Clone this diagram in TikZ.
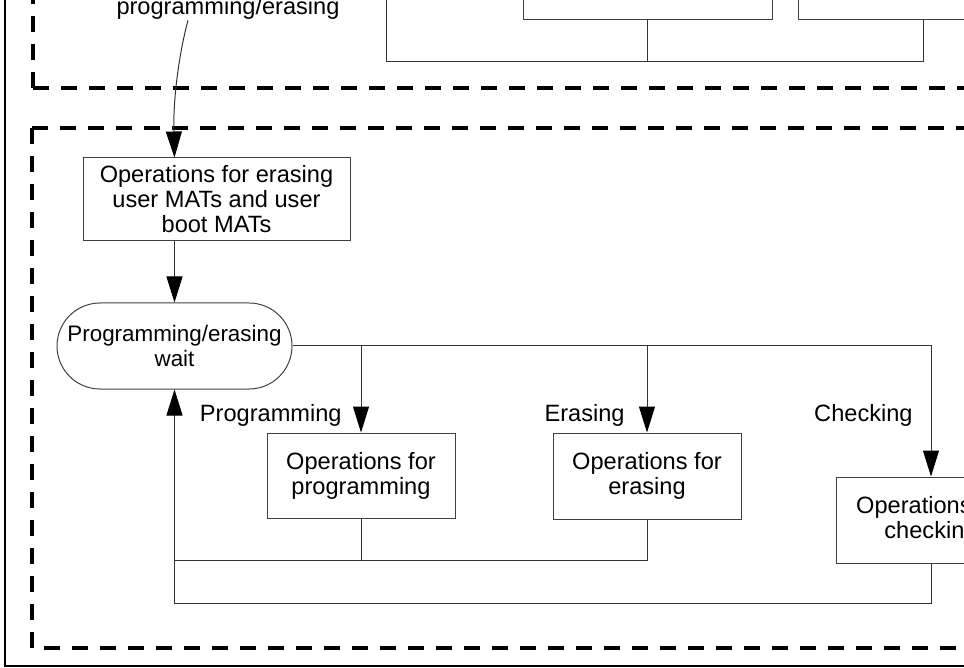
\documentclass[tikz,border=0pt]{standalone}
\usepackage{fontspec}
\setmainfont{Liberation Sans}
\usetikzlibrary{arrows.meta}
\begin{document}
\begin{tikzpicture}[x=0.5pt,y=-0.5pt,
  box/.style={draw=black!75,line width=0.5pt,align=center,inner sep=0pt,
    font=\fontsize{11.8}{12.5}\selectfont},
  lbl/.style={font=\fontsize{11.8}{12.5}\selectfont,inner sep=0pt},
  wire/.style={draw=black!80,line width=0.5pt},
  arr/.style={wire,-{Triangle[length=13pt,width=8pt,color=black]}},
  frame/.style={line width=2pt,dash pattern=on 8pt off 6pt}]
\useasboundingbox (0,0) rectangle (964,668);
\clip (0,0) rectangle (964,668);
\draw[line width=1pt] (5,-20) -- (5,666) -- (1000,666);
\draw[frame] (33,88) -- (33,-20);
\draw[frame] (33,88) -- (1000,88);
\draw[frame] (32,128) -- (1000,128);
\draw[frame] (32,128) -- (32,648) -- (1000,648);
\node[box,minimum width=124.5pt,minimum height=43pt] (ta) at (647.5,-23) {};
\node[box,minimum width=125pt,minimum height=43pt] (tb) at (923,-23) {};
\coordinate (tj) at (386,62);
\draw[wire] (ta.south) -- (ta.south |- tj);
\draw[wire] (tb.south) -- (tb.south |- tj) -- (tj) -- (386,-40);
\node[lbl,anchor=base] (cmd) at (228,15) {programming/erasing};
\node[box,minimum width=133.5pt,minimum height=41.5pt] (e1) at (216.5,199.5)
  {Operations for erasing\\user MATs and user\\boot MATs};
\node[box,minimum width=117.5pt,minimum height=43pt,rounded corners=21.5pt,
  font=\fontsize{11.2}{12.5}\selectfont] (wait) at (174.5,346)
  {Programming/erasing\\wait};
\node[box,minimum width=94pt,minimum height=42.5pt] (prog) at (361,475.5)
  {Operations for\\programming};
\node[box,minimum width=94pt,minimum height=43pt] (eras) at (647,476)
  {Operations for\\erasing};
\node[box,minimum width=95pt,minimum height=43pt] (chk) at (931,520)
  {Operations for\\checking};
\node[lbl,anchor=base east] (lp) at (342,421) {Programming};
\node[lbl,anchor=base east] (le) at (625,422) {Erasing};
\node[lbl,anchor=base east] (lc) at (913,422) {Checking};
\draw[arr] ([xshift=-20pt]cmd.south) .. controls (180,50) and (173,95) .. (e1.north -| wait.north);
\draw[arr] (e1.south -| wait.north) -- (wait.north);
\draw[arr] (wait.east) -| (chk.north);
\draw[arr] (wait.east -| prog.north) -- (prog.north);
\draw[arr] (wait.east -| eras.north) -- (eras.north);
\path (prog.south) ++(0,42) coordinate (j1);
\draw[arr] (prog.south) -- (j1) -| (wait.south);
\draw[wire] (eras.south) |- (j1);
\draw[wire] (chk.south) -- ++(0,40) -| (j1 -| wait.south);
\end{tikzpicture}
\end{document}
